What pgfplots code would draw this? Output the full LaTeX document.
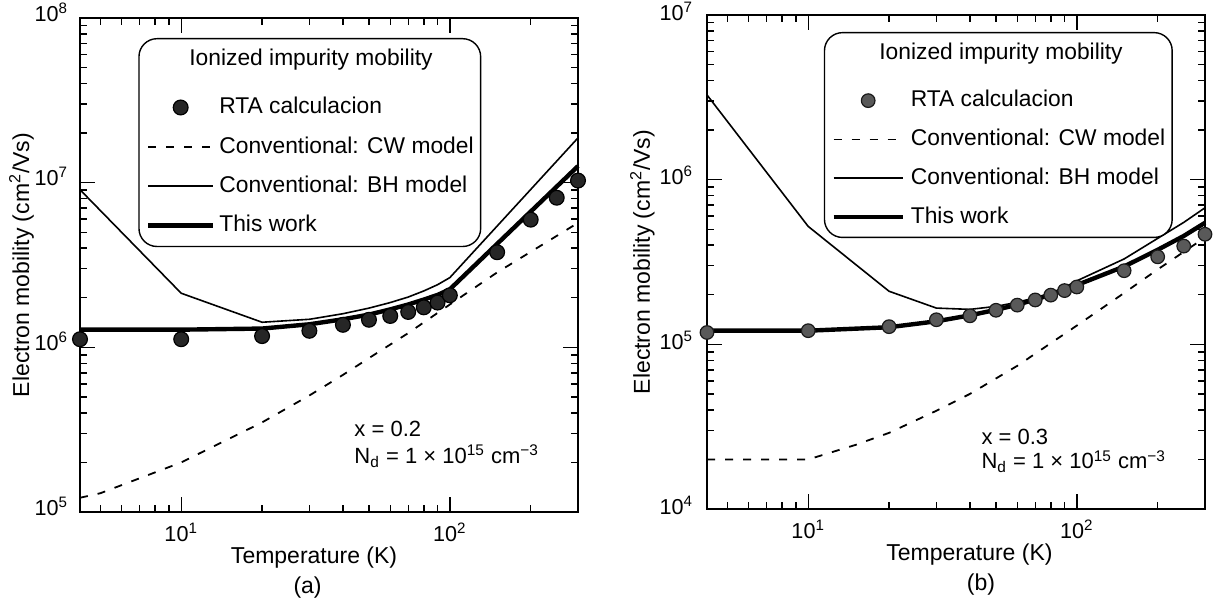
\documentclass[border=0pt]{standalone}
\usepackage{fontspec}
\setmainfont{Liberation Sans}
\usepackage{pgfplots}
\pgfplotsset{compat=1.18}

\newcommand{\fnt}{\fontsize{11.5}{13}\selectfont}
\newcommand{\tfnt}{\fontsize{10.8}{13}\selectfont}

\tikzset{
  cw/.style={black, line width=0.9pt, dash pattern=on 4pt off 5pt},
  bh/.style={black, line width=0.8pt},
  tw/.style={black, line width=2.2pt},
  annot/.style={anchor=base west, font=\fontsize{11}{13}\selectfont},
}
\pgfplotsset{
  lineleg/.style={legend image code/.code={\draw[##1] (0pt,0pt) -- (#1,0pt);}},
  dotleg/.style={legend image code/.code={\path (0pt,0pt) (#1,0pt);
    \draw[##1] plot[only marks] coordinates {(0.5*#1,0pt)};}},
}

\begin{document}
\begin{tikzpicture}
\path[use as bounding box] (0,0) rectangle (611pt,303pt);

% (a) x = 0.2
\begin{axis}[
  at={(40pt,47pt)}, anchor=south west,
  xmode=log, ymode=log,
  scale only axis, width=249pt, height=247pt,
  xmin=4.2, xmax=300, ymin=1e5, ymax=1e8,
  xtick={10,100},
  xticklabels={10\textsuperscript{1},10\textsuperscript{2}},
  minor xtick={5,6,7,8,9,20,30,40,50,60,70,80,90,200},
  ytick={1e5,1e6,1e7,1e8},
  yticklabels={10\textsuperscript{5},10\textsuperscript{6},10\textsuperscript{7},10\textsuperscript{8}},
  minor ytick={2e5,3e5,4e5,5e5,6e5,7e5,8e5,9e5,2e6,3e6,4e6,5e6,6e6,7e6,8e6,9e6,2e7,3e7,4e7,5e7,6e7,7e7,8e7,9e7},
  tick pos=both, tick align=inside,
  major tick length=7.5pt, minor tick length=3.75pt,
  tick style={line width=0.7pt, black},
  axis line style={line width=1pt},
  clip=false,
  tick label style={font=\tfnt},
  yticklabel style={yshift=3pt, xshift=-2.5pt},
  xticklabel style={yshift=-2pt},
  label style={font=\fnt},
  xlabel={Temperature (K)},
  ylabel={Electron mobility (cm\textsuperscript{2}/Vs)},
  xlabel style={at={(axis description cs:0.47,-0.093)}, anchor=center},
  ylabel style={at={(axis description cs:-0.1024,0.5)}, anchor=base},
  lineleg=32.5pt,
  legend cell align=left,
  legend style={at={(0.117,0.9595)}, anchor=north west,
    draw=black, line width=0.7pt, rounded corners=9pt, fill=white,
    inner xsep=3.5pt, inner ysep=4.7pt, font=\fontsize{11.4}{13}\selectfont,
    row sep=8.3pt, column sep=2pt,
    nodes={inner sep=0pt, text height=8.8pt, text depth=2.6pt}},
]
\addlegendimage{empty legend}
\addlegendentry[text depth=6.9pt, font=\fontsize{11.4}{13}\selectfont]{\hspace*{-15pt}Ionized impurity mobility}
\addlegendimage{draw=none, mark=*, mark size=3.7pt,
  mark options={draw=black, fill=black!85, line width=0.6pt, solid},
  dotleg=32.5pt}
\addlegendentry{RTA calculacion}
\addlegendimage{cw}
\addlegendentry{Conventional: CW model}
\addlegendimage{bh}
\addlegendentry{Conventional: BH model}
\addlegendimage{tw}
\addlegendentry{This work}

\addplot[cw, forget plot] coordinates {
  (4.2,1.22e5) (5,1.3e5) (10,2.0e5) (20,3.5e5) (30,5.1e5) (40,6.8e5)
  (50,8.6e5) (70,1.22e6) (100,1.82e6) (150,2.85e6) (200,3.8e6) (300,5.7e6)
};
\addplot[bh, forget plot] coordinates {
  (4.2,9.06e6) (10,2.13e6) (20,1.42e6) (30,1.48e6) (40,1.6e6) (50,1.73e6)
  (60,1.87e6) (70,2.02e6) (80,2.2e6) (90,2.4e6) (100,2.65e6) (300,1.87e7)
};
\addplot[tw, forget plot] coordinates {
  (4.2,1.28e6) (10,1.28e6) (20,1.30e6) (30,1.38e6) (40,1.48e6) (50,1.58e6)
  (60,1.70e6) (70,1.82e6) (80,1.95e6) (90,2.08e6) (100,2.25e6) (300,1.26e7)
};
\addplot[only marks, mark=*, mark size=3.7pt,
  mark options={draw=black, fill=black!85, line width=0.6pt}, forget plot] coordinates {
  (4.2,1.12e6) (10,1.12e6) (20,1.17e6) (30,1.26e6) (40,1.37e6) (50,1.47e6)
  (60,1.55e6) (70,1.64e6) (80,1.75e6) (90,1.87e6) (100,2.07e6) (150,3.78e6)
  (200,5.96e6) (250,8.1e6) (300,1.03e7)
};

\node[annot] at (axis description cs:0.537,0.153) {x = 0.2};
\node[annot] at (axis description cs:0.537,0.098)
  {N\textsubscript{d} = 1 × 10\textsuperscript{15} cm\textsuperscript{−3}};
\end{axis}

% (b) x = 0.3
\begin{axis}[
  at={(353.5pt,48.5pt)}, anchor=south west,
  xmode=log, ymode=log,
  scale only axis, width=249pt, height=247pt,
  xmin=4.2, xmax=300, ymin=1e4, ymax=1e7,
  xtick={10,100},
  xticklabels={10\textsuperscript{1},10\textsuperscript{2}},
  minor xtick={5,6,7,8,9,20,30,40,50,60,70,80,90,200},
  ytick={1e4,1e5,1e6,1e7},
  yticklabels={10\textsuperscript{4},10\textsuperscript{5},10\textsuperscript{6},10\textsuperscript{7}},
  minor ytick={2e4,3e4,4e4,5e4,6e4,7e4,8e4,9e4,2e5,3e5,4e5,5e5,6e5,7e5,8e5,9e5,2e6,3e6,4e6,5e6,6e6,7e6,8e6,9e6},
  tick pos=both, tick align=inside,
  major tick length=7.5pt, minor tick length=3.75pt,
  tick style={line width=0.7pt, black},
  axis line style={line width=1pt},
  clip=false,
  tick label style={font=\tfnt},
  yticklabel style={yshift=2pt, xshift=-3.5pt},
  xticklabel style={yshift=-2pt},
  label style={font=\fnt},
  xlabel={Temperature (K)},
  ylabel={Electron mobility (cm\textsuperscript{2}/Vs)},
  xlabel style={at={(axis description cs:0.527,-0.093)}, anchor=center},
  ylabel style={at={(axis description cs:-0.1145,0.5)}, anchor=base},
  lineleg=34.5pt,
  legend cell align=left,
  legend style={at={(0.2345,0.9657)}, anchor=north west,
    draw=black, line width=0.7pt, rounded corners=9pt, fill=white,
    inner xsep=3.5pt, inner ysep=4.5pt, font=\fontsize{11.4}{13}\selectfont,
    row sep=8.0pt, column sep=3pt,
    nodes={inner sep=0pt, text height=8.8pt, text depth=2.6pt}},
]
\addlegendimage{empty legend}
\addlegendentry[text depth=7.0pt, font=\fontsize{11.4}{13}\selectfont]{\hspace*{-15.75pt}Ionized impurity mobility}
\addlegendimage{draw=none, mark=*, mark size=3.4pt,
  mark options={draw=black!90, fill=black!65, line width=0.6pt, solid},
  dotleg=34.5pt}
\addlegendentry{RTA calculacion}
\addlegendimage{cw}
\addlegendentry{Conventional: CW model}
\addlegendimage{bh}
\addlegendentry{Conventional: BH model}
\addlegendimage{tw}
\addlegendentry{This work}

\addplot[cw, forget plot] coordinates {
  (4.2,2.0e4) (10,2.0e4) (15,2.45e4) (20,2.9e4) (30,3.95e4) (40,5.0e4)
  (60,7.4e4) (100,1.3e5) (150,2.05e5) (200,2.85e5) (300,4.45e5)
};
\addplot[bh, forget plot] coordinates {
  (4.2,3.27e6) (10,5.2e5) (20,2.1e5) (30,1.66e5) (40,1.63e5) (50,1.7e5)
  (60,1.8e5) (70,1.92e5) (80,2.05e5) (90,2.22e5) (100,2.43e5) (150,3.3e5)
  (200,4.4e5) (250,5.5e5) (300,6.75e5)
};
\addplot[tw, forget plot] coordinates {
  (4.2,1.21e5) (10,1.21e5) (20,1.27e5) (30,1.38e5) (40,1.5e5) (50,1.62e5)
  (60,1.74e5) (70,1.87e5) (80,2.0e5) (90,2.14e5) (100,2.29e5) (150,2.97e5)
  (200,3.75e5) (250,4.55e5) (300,5.47e5)
};
\addplot[only marks, mark=*, mark size=3.4pt,
  mark options={draw=black!90, fill=black!65, line width=0.6pt}, forget plot] coordinates {
  (4.2,1.18e5) (10,1.21e5) (20,1.28e5) (30,1.41e5) (40,1.49e5) (50,1.61e5)
  (60,1.73e5) (70,1.86e5) (80,1.99e5) (90,2.12e5) (100,2.23e5) (150,2.8e5)
  (200,3.4e5) (250,3.95e5) (300,4.66e5)
};

\node[annot] at (axis description cs:0.537,0.131) {x = 0.3};
\node[annot] at (axis description cs:0.537,0.081)
  {N\textsubscript{d} = 1 × 10\textsuperscript{15} cm\textsuperscript{−3}};
\end{axis}

\node[font=\fnt] at (153.8pt,9pt) {(a)};
\node[font=\fnt] at (490.5pt,10.5pt) {(b)};
\end{tikzpicture}
\end{document}
